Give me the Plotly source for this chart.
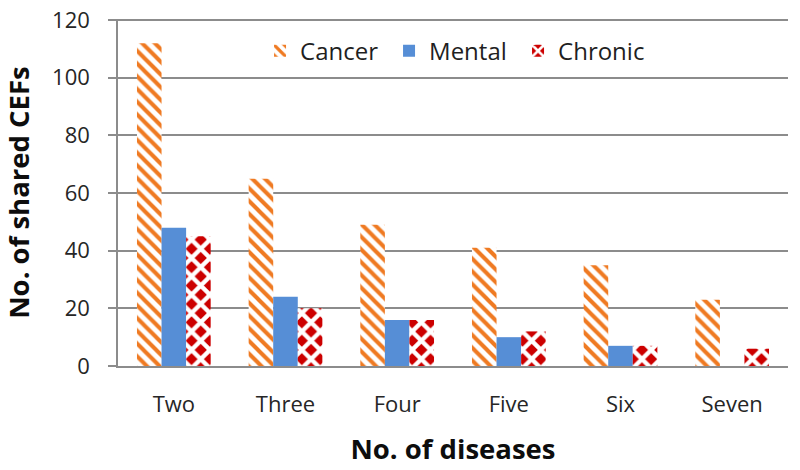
import plotly.graph_objects as go

# Shared CEFs by number of diseases
categories = ["Two", "Three", "Four", "Five", "Six", "Seven"]
cancer = [112, 65, 49, 41, 35, 23]
mental = [48, 24, 16, 10, 7, 0]
chronic = [45, 20, 16, 12, 7, 6]

ORANGE = "#EF7A22"
BLUE = "#568ED6"
RED = "#CC0000"
GRID = "#8C8C8C"
FONT = "'Open Sans', 'Noto Sans', sans-serif"

fig = go.Figure()
fig.add_trace(go.Bar(
    name="Cancer", x=categories, y=cancer,
    marker=dict(color="white", line=dict(width=0),
                pattern=dict(shape="\\", fgcolor=ORANGE, bgcolor="white", fgopacity=1,
                             size=9, solidity=0.45, fillmode="overlay")),
))
fig.add_trace(go.Bar(
    name="Mental", x=categories, y=mental,
    marker=dict(color=BLUE, line=dict(width=0)),
))
fig.add_trace(go.Bar(
    name="Chronic", x=categories, y=chronic,
    marker=dict(color=RED, line=dict(width=0),
                pattern=dict(shape="x", fgcolor="white", bgcolor=RED, fgopacity=1,
                             size=13, solidity=0.55, fillmode="overlay")),
))

fig.update_layout(
    width=800, height=470,
    plot_bgcolor="white", paper_bgcolor="white",
    margin=dict(l=118, r=12, t=19, b=104),
    barmode="group", bargap=0.34, bargroupgap=0,
    font=dict(family=FONT, color="#262626"),
    legend=dict(orientation="h", x=0.212, y=0.907, xanchor="left", yanchor="middle",
                font=dict(size=24, color="#1f1f1f"), bgcolor="rgba(0,0,0,0)",
                entrywidth=84, traceorder="normal"),
    xaxis=dict(
        automargin=False,
        showline=True, linecolor=GRID, linewidth=1.5,
        ticks="", tickfont=dict(size=22), ticklabelstandoff=18,
        title=dict(text="<b>No. of diseases</b>", font=dict(size=27.5, color="#0d0d0d"), standoff=23),
    ),
    yaxis=dict(
        automargin=False,
        # a hair above 120 so the top gridline is not dropped at the plot edge
        range=[0, 120.4], tickvals=[0, 20, 40, 60, 80, 100, 120],
        showgrid=True, gridcolor=GRID, gridwidth=1.5,
        showline=True, linecolor=GRID, linewidth=1.5,
        ticks="outside", ticklen=8, tickcolor=GRID, tickwidth=1.5,
        tickfont=dict(size=22), ticklabelstandoff=14, zeroline=False,
        title=dict(text="<b>No. of shared CEFs</b>", font=dict(size=27.5, color="#0d0d0d"), standoff=18),
    ),
)

# the page opens with the browser's default body margin; drop it so the chart sits at 0,0
fig.write_html("out.html", config={"displayModeBar": False},
               post_script="document.body.style.margin='0';")
